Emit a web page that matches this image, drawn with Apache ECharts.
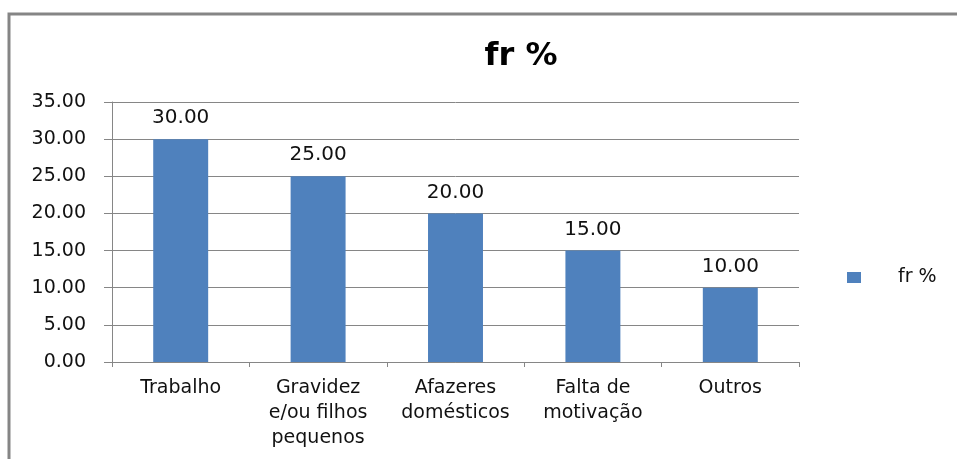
<!DOCTYPE html>
<html>
<head>
<meta charset="utf-8">
<script src="https://cdn.jsdelivr.net/npm/echarts@6/dist/echarts.min.js"></script>
<style>
html,body{margin:0;padding:0;background:#fff;}
#c{width:957px;height:459px;}
</style>
</head>
<body>
<div id="c"></div>
<script>
var categories = ["Trabalho", "Gravidez\ne/ou filhos\npequenos", "Afazeres\ndomésticos", "Falta de\nmotivação", "Outros"];
var values = [30, 25, 20, 15, 10];
var seriesName = "fr %";
var yMin = 0, yMax = 35, yStep = 5;

var chart = echarts.init(document.getElementById('c'), null, {renderer: 'canvas'});
var font = "'DejaVu Sans', sans-serif";
chart.setOption({
  animation: false,
  backgroundColor: '#ffffff',
  graphic: [{
    type: 'rect', silent: true, z: -1,
    shape: {x: 9, y: 14, width: 960, height: 460},
    style: {fill: 'none', stroke: '#858585', lineWidth: 3}
  }],
  title: {
    text: seriesName,
    left: 516, top: 36, textAlign: 'center',
    textStyle: {fontFamily: font, fontSize: 32, fontWeight: 'bold', color: '#000'}
  },
  legend: {
    data: [seriesName],
    left: 842, top: 263,
    icon: 'rect', itemWidth: 14, itemHeight: 11, itemGap: 10,
    textStyle: {fontFamily: font, fontSize: 19, color: '#111', padding: [0, 0, 0, 32]}
  },
  grid: {left: 112, right: 158, top: 102, bottom: 97, containLabel: false},
  xAxis: {
    type: 'category',
    data: categories,
    axisLine: {lineStyle: {color: '#868686', width: 1}},
    axisTick: {show: true, length: 5, alignWithLabel: false, lineStyle: {color: '#868686'}},
    axisLabel: {fontFamily: font, fontSize: 19, color: '#111', margin: 14, lineHeight: 25, interval: 0},
    splitLine: {show: false}
  },
  yAxis: {
    type: 'value',
    min: yMin, max: yMax, interval: yStep,
    axisLine: {show: true, lineStyle: {color: '#868686', width: 1}},
    axisTick: {show: true, length: 8, lineStyle: {color: '#868686'}},
    axisLabel: {fontFamily: font, fontSize: 19, color: '#111', margin: 26,
      formatter: function (v) { return v.toFixed(2); }},
    splitLine: {show: true, lineStyle: {color: '#868686', width: 1}}
  },
  series: [{
    name: seriesName,
    type: 'bar',
    data: values,
    barWidth: '40%',
    itemStyle: {color: '#4f81bd'},
    label: {
      show: true, position: 'top', distance: 11,
      fontFamily: font, fontSize: 20, color: '#111',
      formatter: function (p) { return p.value.toFixed(2); }
    }
  }]
});
</script>
</body>
</html>
